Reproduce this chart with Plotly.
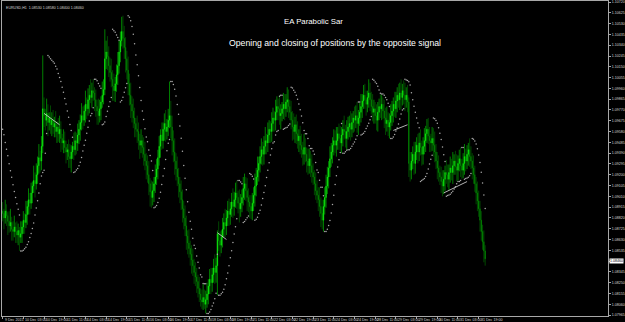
import plotly.graph_objects as go

# ---------------- data (prices stored as pips above 1.0800) ----------------
BASE_PRICE = 1.0800
PIP = 0.0001

first_open_pips = 88

close_pips = [
    86, 82, 88, 84, 79, 75, 78, 72, 70, 74,
    70, 67, 71, 65, 68, 74, 80, 78, 85, 92,
    98, 95, 104, 110, 115, 112, 120, 128, 135, 132,
    145, 178, 172, 168, 174, 166, 170, 164, 168, 162,
    165, 158, 162, 156, 160, 152, 148, 150, 144, 140,
    142, 136, 134, 140, 145, 142, 150, 148, 155, 160,
    166, 172, 168, 176, 182, 178, 186, 190, 188, 194,
    192, 186, 180, 176, 172, 178, 184, 190, 195, 222,
    228, 224, 216, 210, 204, 198, 194, 200, 208, 216,
    228, 238, 246, 240, 232, 222, 212, 200, 190, 182,
    176, 170, 165, 160, 158, 150, 146, 150, 144, 138,
    132, 128, 120, 112, 105, 100, 106, 112, 118, 125,
    135, 145, 155, 150, 160, 165, 158, 162, 168, 172,
    162, 150, 140, 132, 125, 118, 112, 105, 98, 90,
    82, 75, 66, 60, 55, 50, 45, 40, 34, 30,
    26, 20, 15, 10, 8, 12, 6, 10, 15, 22,
    28, 25, 32, 38, 34, 40, 68, 62, 58, 65,
    72, 78, 75, 82, 88, 85, 90, 96, 92, 98,
    104, 100, 95, 90, 95, 100, 108, 112, 106, 100,
    96, 92, 88, 95, 102, 110, 118, 124, 130, 136,
    142, 138, 145, 150, 148, 155, 160, 158, 165, 170,
    168, 175, 180, 178, 172, 174, 178, 182, 178, 184,
    186, 180, 175, 168, 162, 158, 164, 156, 150, 154,
    146, 142, 138, 144, 138, 132, 128, 134, 128, 122,
    118, 112, 106, 102, 98, 92, 86, 80, 92, 100,
    110, 118, 126, 134, 140, 146, 150, 146, 150, 156,
    152, 148, 155, 160, 158, 152, 158, 162, 165, 160,
    166, 170, 168, 172, 165, 170, 175, 180, 185, 190,
    186, 182, 188, 192, 186, 180, 175, 178, 172, 168,
    175, 180, 178, 182, 176, 170, 165, 168, 162, 166,
    172, 176, 182, 178, 185, 190, 186, 192, 188, 194,
    190, 186, 190, 184, 130, 124, 132, 138, 130, 140,
    146, 140, 148, 144, 138, 145, 150, 156, 160, 154,
    150, 148, 152, 146, 140, 132, 126, 122, 118, 114,
    110, 116, 122, 120, 116, 122, 126, 122, 128, 132,
    127, 124, 130, 134, 128, 124, 130, 136, 132, 138,
    142, 136, 132, 126, 120, 112, 104, 97, 90, 80,
    70, 61, 53, 46,
]

upper_wick_pips = [
    8, 4, 10, 6, 3, 9, 12, 5, 7, 10,
    4, 9, 6, 3, 11, 5, 8, 6, 12, 5,
    10, 6, 9, 4, 13, 7, 10, 8, 12, 6,
    9, 47, 10, 6, 13, 8, 5, 11, 7, 9,
    6, 11, 5, 8, 12, 7, 4, 10, 8, 6,
    5, 9, 11, 6, 4, 12, 8, 7, 10, 8,
    7, 11, 8, 5, 12, 6, 10, 9, 14, 7,
    10, 5, 9, 6, 11, 8, 5, 12, 9, 26,
    10, 14, 9, 7, 12, 8, 11, 6, 9, 12,
    10, 8, 13, 14, 11, 9, 7, 12, 9, 11,
    7, 11, 9, 5, 12, 8, 6, 10, 5, 9,
    11, 7, 9, 12, 5, 10, 8, 6, 11, 9,
    7, 9, 5, 11, 6, 9, 12, 7, 10, 30,
    13, 10, 9, 12, 7, 11, 8, 6, 10, 9,
    7, 11, 9, 5, 12, 7, 8, 10, 6, 9,
    8, 6, 10, 5, 9, 12, 7, 8, 10, 6,
    9, 10, 6, 8, 12, 7, 3, 11, 8, 6,
    10, 8, 12, 7, 9, 11, 6, 8, 12, 7,
    9, 11, 6, 12, 8, 7, 10, 9, 6, 11,
    8, 6, 10, 9, 7, 11, 8, 12, 6, 9,
    10, 7, 9, 12, 6, 11, 8, 7, 10, 9,
    6, 11, 9, 7, 12, 8, 6, 10, 9, 7,
    11, 9, 6, 10, 8, 12, 7, 9, 11, 6,
    9, 10, 7, 12, 8, 6, 11, 9, 7, 10,
    8, 6, 10, 9, 7, 11, 8, 12, 6, 9,
    10, 9, 6, 11, 8, 7, 10, 9, 12, 6,
    9, 11, 7, 8, 12, 6, 10, 9, 7, 11,
    8, 6, 10, 9, 12, 7, 8, 11, 6, 9,
    10, 8, 6, 12, 9, 7, 11, 8, 6, 10,
    9, 7, 11, 8, 6, 10, 9, 12, 7, 8,
    10, 9, 6, 11, 8, 7, 10, 9, 12, 6,
    9, 11, 7, 9, 4, 10, 8, 7, 11, 9,
    7, 10, 9, 12, 6, 8, 11, 7, 9, 10,
    8, 6, 10, 9, 12, 7, 8, 11, 6, 9,
    10, 8, 6, 11, 9, 7, 10, 8, 12, 6,
    9, 11, 7, 8, 10, 6, 9, 11, 7, 8,
    6, 10, 9, 7, 11, 8, 6, 10, 9, 7,
    8, 6, 10, 5,
]

lower_wick_pips = [
    7, 10, 5, 9, 12, 6, 5, 10, 8, 5,
    10, 7, 9, 12, 5, 8, 6, 10, 5, 9,
    7, 10, 5, 9, 6, 12, 5, 8, 7, 10,
    8, 6, 10, 9, 5, 12, 7, 8, 10, 6,
    9, 5, 10, 7, 8, 12, 6, 9, 5, 10,
    7, 10, 8, 12, 6, 9, 5, 10, 7, 8,
    10, 7, 8, 5, 10, 9, 6, 12, 5, 9,
    7, 10, 9, 12, 8, 6, 10, 5, 8, 5,
    9, 12, 10, 8, 7, 13, 9, 10, 7, 9,
    7, 9, 5, 9, 10, 12, 8, 10, 9, 12,
    10, 9, 12, 7, 10, 8, 12, 7, 9, 10,
    8, 12, 7, 10, 13, 9, 7, 10, 8, 7,
    9, 7, 10, 8, 7, 10, 9, 7, 8, 7,
    10, 13, 9, 12, 10, 8, 12, 10, 9, 12,
    10, 9, 12, 10, 8, 10, 12, 9, 10, 8,
    10, 8, 7, 6, 6, 7, 4, 8, 7, 9,
    7, 10, 8, 7, 10, 9, 26, 9, 10, 7,
    9, 7, 10, 8, 7, 10, 9, 7, 10, 8,
    7, 10, 9, 12, 7, 8, 7, 10, 9, 12,
    9, 10, 7, 8, 7, 10, 9, 7, 10, 8,
    7, 10, 9, 7, 10, 8, 7, 10, 9, 7,
    10, 9, 7, 10, 8, 12, 7, 9, 10, 7,
    9, 10, 7, 8, 12, 7, 10, 9, 7, 10,
    8, 7, 10, 9, 7, 10, 8, 7, 10, 9,
    7, 10, 8, 7, 10, 9, 12, 8, 10, 7,
    9, 7, 10, 8, 7, 10, 9, 7, 10, 8,
    10, 7, 9, 10, 7, 8, 10, 7, 9, 10,
    7, 9, 10, 7, 8, 10, 7, 9, 10, 7,
    8, 10, 7, 9, 10, 7, 8, 10, 7, 9,
    10, 7, 8, 10, 7, 9, 10, 7, 8, 10,
    7, 9, 10, 7, 8, 10, 7, 9, 10, 7,
    8, 10, 7, 9, 12, 10, 8, 7, 10, 9,
    7, 10, 8, 7, 10, 9, 7, 10, 8, 7,
    10, 8, 7, 10, 9, 7, 10, 8, 7, 10,
    9, 7, 10, 8, 7, 10, 9, 7, 10, 8,
    7, 10, 9, 7, 10, 8, 7, 10, 9, 7,
    10, 9, 7, 10, 8, 7, 10, 9, 7, 10,
    8, 7, 10, 6,
]

# Parabolic SAR state at the first visible bar (downtrend, dots above price)
sar_start_pips = 160
sar_start_af = 0.06
sar_step = 0.02
sar_max = 0.2

# EA trades: lines from opening bar/price to closing bar/price
trade_open_bar = [32, 166, 302, 341]
trade_open_pips = [174, 69, 159, 104]
trade_close_bar = [44, 173, 313, 359]
trade_close_pips = [164, 63, 164, 114]

# time axis labels (one every 16 hourly bars)
x_tick_bars = [0, 16, 32, 48, 64, 80, 96, 112, 128, 144, 160, 176,
               192, 208, 224, 240, 256, 272, 288, 304, 320, 336, 352, 368]
x_tick_labels = ["9 Dec 2015", "10 Dec 03:00", "10 Dec 19:00", "11 Dec 11:00",
                 "14 Dec 03:00", "14 Dec 19:00", "15 Dec 11:00", "16 Dec 03:00",
                 "16 Dec 19:00", "17 Dec 11:00", "18 Dec 03:00", "18 Dec 19:00",
                 "21 Dec 11:00", "22 Dec 03:00", "22 Dec 19:00", "23 Dec 11:00",
                 "24 Dec 03:00", "24 Dec 19:00", "28 Dec 11:00", "29 Dec 03:00",
                 "29 Dec 19:00", "30 Dec 11:00", "31 Dec 03:00", "31 Dec 19:00"]

# price axis labels (the one under the current-price box is hidden by it)
y_tick_values = [1.10720, 1.10625, 1.10530, 1.10435, 1.10340, 1.10245, 1.10150,
                 1.10055, 1.09960, 1.09865, 1.09770, 1.09675, 1.09580, 1.09485,
                 1.09390, 1.09295, 1.09200, 1.09105, 1.09010, 1.08915, 1.08820,
                 1.08725, 1.08630, 1.08535, 1.08440, 1.08345, 1.08250, 1.08155,
                 1.08060, 1.07965]
y_tick_hidden = [1.08440]

symbol_name = "EURUSD,H1"
title_line1 = "EA Parabolic Sar"
title_line2 = "Opening and closing of positions by the opposite signal"

# ---------------- build OHLC ----------------
n = len(close_pips)
assert len(upper_wick_pips) == n and len(lower_wick_pips) == n, (n, len(upper_wick_pips), len(lower_wick_pips))

def to_price(p):
    return BASE_PRICE + p * PIP

open_p = [first_open_pips] + close_pips[:-1]
high_p = [max(o, c) + w for o, c, w in zip(open_p, close_pips, upper_wick_pips)]
low_p = [min(o, c) - w for o, c, w in zip(open_p, close_pips, lower_wick_pips)]

O = [to_price(v) for v in open_p]
H = [to_price(v) for v in high_p]
L = [to_price(v) for v in low_p]
C = [to_price(v) for v in close_pips]
idx = list(range(n))

# ---------------- Parabolic SAR (standard Wilder rules) ----------------
sar = [sar_start_pips]
trend = -1
s = sar_start_pips
ep = low_p[0]
af = sar_start_af
for i in range(1, n):
    s = s + af * (ep - s)
    if trend == 1:
        s = min(s, low_p[i - 1], low_p[i - 2] if i >= 2 else low_p[i - 1])
        if low_p[i] < s:
            trend, s, ep, af = -1, ep, low_p[i], sar_step
        elif high_p[i] > ep:
            ep, af = high_p[i], min(af + sar_step, sar_max)
    else:
        s = max(s, high_p[i - 1], high_p[i - 2] if i >= 2 else high_p[i - 1])
        if high_p[i] > s:
            trend, s, ep, af = 1, ep, high_p[i], sar_step
        elif low_p[i] < ep:
            ep, af = low_p[i], min(af + sar_step, sar_max)
    sar.append(s)
SAR = [to_price(v) for v in sar]

# ---------------- figure ----------------
W, Hh = 625, 322
ML, MR, MT, MB = 2, 14, 0, 6
bar_px = 1.3
plot_w = W - ML - MR
x_range = [-0.5, -0.5 + plot_w / bar_px]
y_range = [1.07957, 1.10729]

AXC = "#a8a8a8"
TXT = "#d8d8d8"
FONT = "Liberation Sans, Arial, sans-serif"

fig = go.Figure()
fig.add_trace(go.Candlestick(
    x=idx, open=O, high=H, low=L, close=C,
    increasing=dict(line=dict(color="#00ff00", width=0.5), fillcolor="#30ff30"),
    decreasing=dict(line=dict(color="#008c00", width=0.5), fillcolor="#009a00"),
    whiskerwidth=0, showlegend=False, hoverinfo="skip",
))
fig.add_trace(go.Scatter(
    x=idx, y=SAR, mode="markers",
    marker=dict(size=1.5, color="#a8a8a8", line=dict(width=0)),
    showlegend=False, hoverinfo="skip",
))
for ob, op, cb, cp in zip(trade_open_bar, trade_open_pips, trade_close_bar, trade_close_pips):
    fig.add_trace(go.Scatter(
        x=[ob, cb], y=[to_price(op), to_price(cp)], mode="lines",
        line=dict(color="#e0e0e0", width=0.8),
        showlegend=False, hoverinfo="skip",
    ))

annotations = []
for b, t in zip(x_tick_bars, x_tick_labels):
    annotations.append(dict(
        x=b, y=0, xref="x", yref="paper", text=t, showarrow=False,
        xanchor="left", yanchor="top", xshift=0, yshift=0,
        font=dict(size=3.6, color=TXT, family=FONT),
    ))
# current price label
last_close = C[-1]
annotations.append(dict(
    x=1, y=y_tick_hidden[0], xref="paper", yref="y", text=f"{last_close:.5f}",
    showarrow=False, xanchor="left", yanchor="middle", xshift=1,
    bgcolor="#ffffff", borderpad=0, font=dict(size=3.6, color="#000000", family=FONT),
))
# header
annotations.append(dict(
    x=0, y=1, xref="paper", yref="paper",
    text=f"{symbol_name}  {O[-1]:.5f} {H[-1]:.5f} {L[-1]:.5f} {C[-1]:.5f}",
    showarrow=False, xanchor="left", yanchor="top", xshift=2, yshift=-3,
    font=dict(size=3.6, color=TXT, family=FONT),
))
# titles
annotations.append(dict(
    x=(315 - ML) / plot_w, y=1 - 21 / 316, xref="paper", yref="paper",
    text=title_line1, showarrow=False, xanchor="center", yanchor="middle",
    font=dict(size=7.8, color="#ffffff", family=FONT),
))
annotations.append(dict(
    x=(337 - ML) / plot_w, y=1 - 42 / 316, xref="paper", yref="paper",
    text=title_line2, showarrow=False, xanchor="center", yanchor="middle",
    font=dict(size=8.7, color="#ffffff", family=FONT),
))

fig.update_layout(
    width=W, height=Hh,
    margin=dict(l=ML, r=MR, t=MT, b=MB),
    paper_bgcolor="#000000", plot_bgcolor="#000000",
    annotations=annotations,
    showlegend=False,
    xaxis=dict(
        range=x_range, rangeslider=dict(visible=False),
        showgrid=False, zeroline=False,
        showline=True, mirror=True, linecolor=AXC, linewidth=1,
        ticks="outside", ticklen=2, tickcolor=AXC, tickwidth=1,
        tickvals=x_tick_bars, showticklabels=False,
    ),
    yaxis=dict(
        range=y_range, side="right",
        showgrid=False, zeroline=False,
        showline=True, mirror=True, linecolor=AXC, linewidth=1,
        ticks="outside", ticklen=2, tickcolor=AXC, tickwidth=1,
        tickvals=y_tick_values,
        ticktext=["" if v in y_tick_hidden else f"{v:.5f}" for v in y_tick_values],
        tickfont=dict(size=3.6, color=TXT, family=FONT),
    ),
)

fig.write_html("out.html")
